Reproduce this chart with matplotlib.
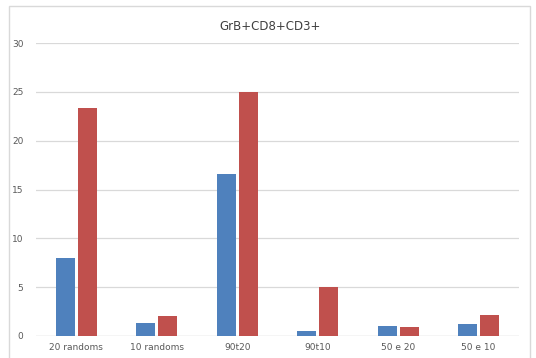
import numpy as np
import matplotlib
matplotlib.use("Agg")
import matplotlib.pyplot as plt
from matplotlib.patches import Rectangle

categories = ["20 randoms", "10 randoms", "90t20", "90t10", "50 e 20", "50 e 10"]
blue_vals = [8.0, 1.3, 16.6, 0.5, 1.0, 1.2]
red_vals = [23.4, 2.0, 25.0, 5.0, 0.9, 2.2]
yticks = [0, 5, 10, 15, 20, 25, 30]

fig = plt.figure(figsize=(5.36, 3.58), dpi=100)
ax = fig.add_axes([0.067, 0.0615, 0.901, 0.818])

# outer chart border
fig.patches.append(Rectangle((9 / 536, -0.05), 521 / 536, 1.05 - 6 / 358,
                             transform=fig.transFigure, fill=False,
                             edgecolor="#d9d9d9", linewidth=1.0))

x = np.arange(len(categories))
w = 0.235
ax.bar(x - w / 2 - 0.02, blue_vals, w, color="#4F81BD", zorder=3)
ax.bar(x + w / 2 + 0.02, red_vals, w, color="#C0504D", zorder=3)

ax.set_xlim(-0.5, len(categories) - 0.5)
ax.set_ylim(0, 30)
ax.set_yticks(yticks)
ax.set_xticks(x)
ax.set_xticklabels(categories)
ax.tick_params(length=0, labelsize=6.5, labelcolor="#595959")
ax.tick_params(axis="y", pad=9)
ax.tick_params(axis="x", pad=5)
ax.grid(axis="y", color="#d9d9d9", linewidth=0.9, zorder=0)
for s in ax.spines.values():
    s.set_visible(False)
ax.axhline(0, color="#d9d9d9", linewidth=0.9, zorder=2)

fig.text(270 / 536, 1 - 27 / 358, "GrB+CD8+CD3+", ha="center", va="center",
         fontsize=8.5, color="#404040")

fig.savefig("out.png", dpi=100)
